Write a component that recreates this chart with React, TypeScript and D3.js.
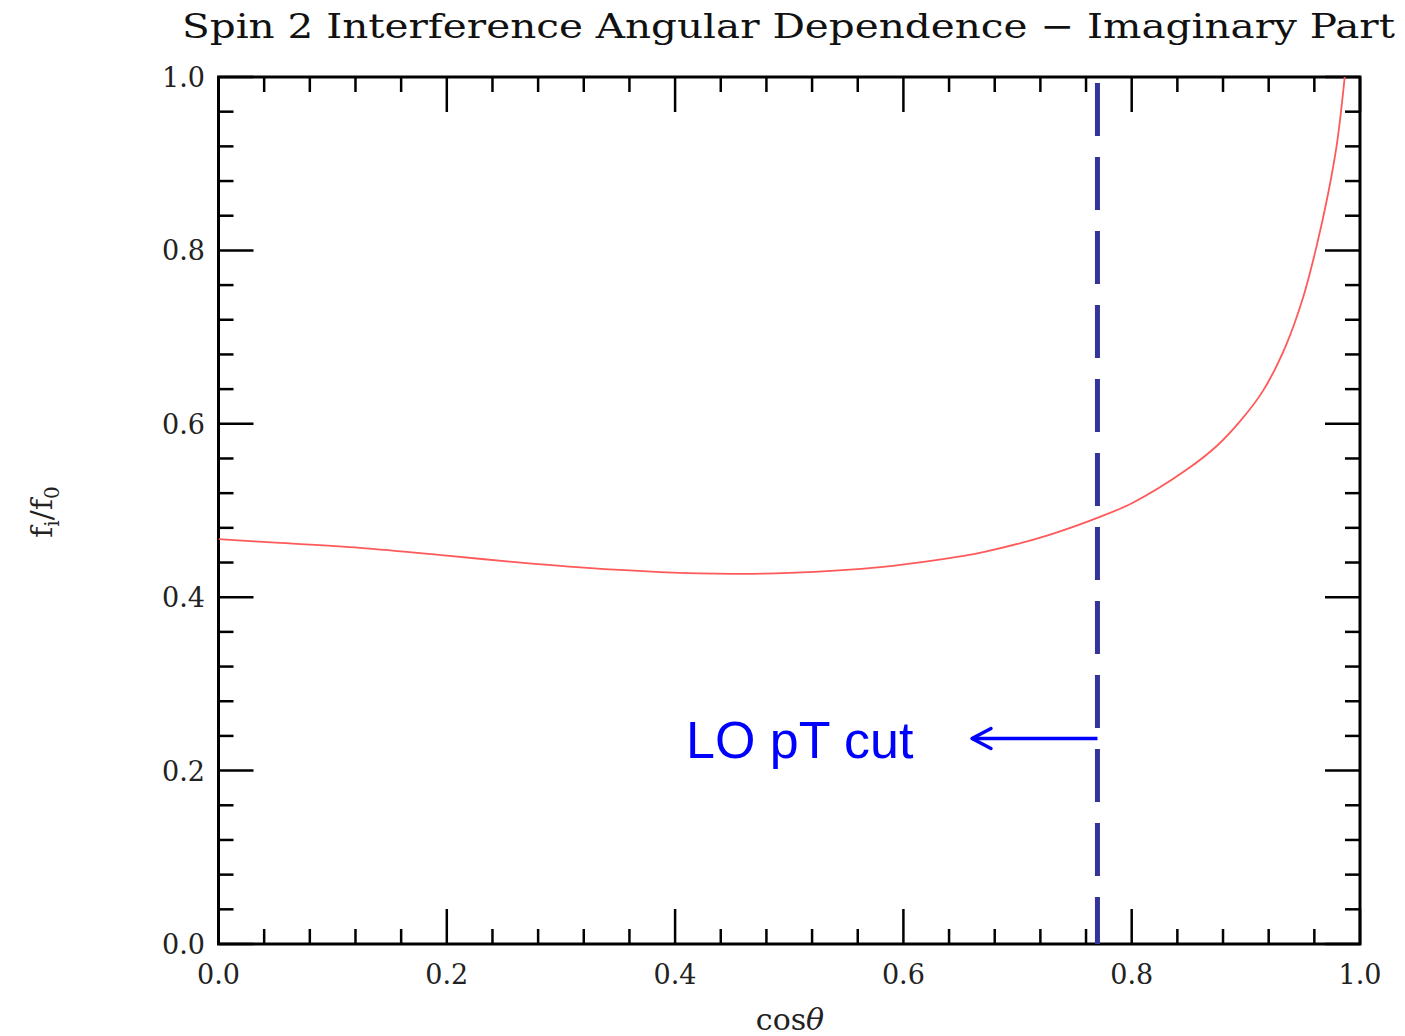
import React from "react";
import * as d3 from "d3";

const curveX = [0.0, 0.05, 0.124, 0.2, 0.255, 0.32, 0.387, 0.45, 0.5, 0.582, 0.63, 0.67, 0.728, 0.771, 0.801, 0.848, 0.875, 0.895, 0.915, 0.935, 0.95, 0.962, 0.972, 0.98, 0.987];
const curveY = [0.467, 0.463, 0.457, 0.448, 0.441, 0.434, 0.429, 0.427, 0.428, 0.435, 0.443, 0.452, 0.472, 0.492, 0.509, 0.547, 0.575, 0.603, 0.638, 0.69, 0.745, 0.805, 0.865, 0.925, 1.005];
const majorTicks = [0.0, 0.2, 0.4, 0.6, 0.8, 1.0];
const tickLabels = ["0.0", "0.2", "0.4", "0.6", "0.8", "1.0"];
const minorTicks = [0.04, 0.08, 0.12, 0.16, 0.24, 0.28, 0.32, 0.36, 0.44, 0.48, 0.52, 0.56, 0.64, 0.68, 0.72, 0.76, 0.84, 0.88, 0.92, 0.96];
const cutValue = 0.77;
const titleText = "Spin 2 Interference Angular Dependence \u2212 Imaginary Part";
const annotationText = "LO pT cut";

export default function App() {
  const W = 1405, H = 1036;
  const x = d3.scaleLinear().domain([0, 1]).range([218.5, 1360]);
  const y = d3.scaleLinear().domain([0, 1]).range([944, 77]);
  const pts: [number, number][] = curveX.map((v, i) => [v, curveY[i]]);
  const line = d3.line<[number, number]>().x(d => x(d[0])).y(d => y(d[1])).curve(d3.curveCatmullRom.alpha(0.5));
  const MAJ = 35, MIN = 15;
  const serif = "'DejaVu Serif', serif";
  const x0 = x(0), x1 = x(1), y0 = y(0), y1 = y(1);
  const cx = x(cutValue);
  const ay = y(0.237);
  return (
    <svg width={W} height={H} style={{ position: "absolute", left: 0, top: 0, background: "#fff" }}>
      <text x={1395} y={38} textAnchor="end" fontFamily={serif} fontSize={34} fill="#111" textLength={1213} lengthAdjust="spacingAndGlyphs">{titleText}</text>
      <defs>
        <clipPath id="plot"><rect x={x0} y={y1} width={x1 - x0} height={y0 - y1} /></clipPath>
      </defs>
      <g stroke="#000" strokeWidth={2.5}>
        {majorTicks.map((t, i) => (
          <g key={"M" + i}>
            <line x1={x(t)} x2={x(t)} y1={y0} y2={y0 - MAJ} />
            <line x1={x(t)} x2={x(t)} y1={y1} y2={y1 + MAJ} />
            <line x1={x0} x2={x0 + MAJ} y1={y(t)} y2={y(t)} />
            <line x1={x1} x2={x1 - MAJ} y1={y(t)} y2={y(t)} />
          </g>
        ))}
        {minorTicks.map((t, i) => (
          <g key={"m" + i}>
            <line x1={x(t)} x2={x(t)} y1={y0} y2={y0 - MIN} />
            <line x1={x(t)} x2={x(t)} y1={y1} y2={y1 + MIN} />
            <line x1={x0} x2={x0 + MIN} y1={y(t)} y2={y(t)} />
            <line x1={x1} x2={x1 - MIN} y1={y(t)} y2={y(t)} />
          </g>
        ))}
      </g>
      <rect x={x0} y={y1} width={x1 - x0} height={y0 - y1} fill="none" stroke="#000" strokeWidth={3} />
      <g fontFamily={serif} fontSize={27} fill="#222">
        {majorTicks.map((t, i) => (
          <text key={"xl" + i} x={x(t)} y={y0 + 40} textAnchor="middle">{tickLabels[i]}</text>
        ))}
        {majorTicks.map((t, i) => (
          <text key={"yl" + i} x={205} y={y(t) + 10} textAnchor="end">{tickLabels[i]}</text>
        ))}
      </g>
      <text x={790} y={1030} textAnchor="middle" fontFamily={serif} fontSize={30} fill="#222">cos<tspan fontStyle="italic">θ</tspan></text>
      <text transform="translate(52,512) rotate(-90)" textAnchor="middle" fontFamily={serif} fontSize={30} fill="#222">
        f<tspan fontSize={20} dy={7}>i</tspan><tspan dy={-7}>/f</tspan><tspan fontSize={20} dy={7}>0</tspan>
      </text>
      <path d={line(pts) || ""} fill="none" stroke="#ff5a5a" strokeWidth={1.8} clipPath="url(#plot)" />
      <line x1={cx} x2={cx} y1={83} y2={y0} stroke="#333399" strokeWidth={5} strokeDasharray="53 21" />
      <line x1={cx} x2={972} y1={ay} y2={ay} stroke="#0000ff" strokeWidth={3.5} />
      <polyline points={`${991},${ay - 10} ${972},${ay} ${991},${ay + 10}`} fill="none" stroke="#0000ff" strokeWidth={3.5} strokeLinecap="round" strokeLinejoin="round" />
      <text x={686} y={758} fontFamily="'Liberation Sans', Arial, sans-serif" fontSize={52} fill="#0000ff">{annotationText}</text>
    </svg>
  );
}
